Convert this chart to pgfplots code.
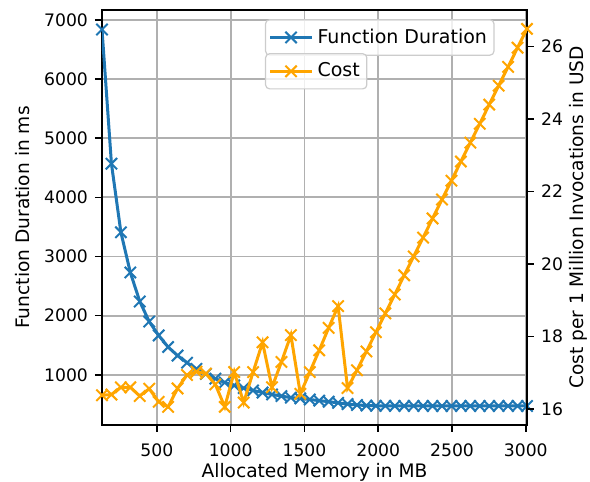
\documentclass[border=0pt]{standalone}
\usepackage{fontspec}
\setmainfont{DejaVu Sans}
\usepackage{pgfplots}
\usepackage{pgfplotstable}
\pgfplotsset{compat=1.18}

\definecolor{mplblue}{HTML}{1F77B4}
\definecolor{mplorange}{HTML}{FFA500}
\definecolor{gridgray}{HTML}{B0B0B0}
\definecolor{legendgray}{HTML}{CCCCCC}

% memory (MB), duration (ms), cost per 1M invocations (USD)
\pgfplotstableread{
mem  dur   cost
128  6840  16.38
192  4570  16.40
256  3410  16.60
320  2730  16.60
384  2240  16.36
448  1900  16.56
512  1665  16.20
576  1470  16.06
640  1325  16.57
704  1205  16.94
768  1100  17.03
832  1015  16.98
896  935   16.68
960  870   16.06
1024 820   17.02
1088 775   16.18
1152 735   17.02
1216 700   17.84
1280 668   16.60
1344 640   17.30
1408 614   18.04
1472 600   16.42
1536 582   17.02
1600 563   17.62
1664 545   18.24
1728 525   18.84
1792 505   16.58
1856 490   17.07
1920 480   17.59
1984 476   18.12
2048 475   18.64
2112 474   19.16
2176 474   19.69
2240 474   20.21
2304 473   20.73
2368 473   21.26
2432 473   21.78
2496 473   22.30
2560 473   22.83
2624 473   23.35
2688 473   23.87
2752 473   24.40
2816 473   24.92
2880 473   25.44
2944 473   25.97
3008 473   26.49
}\data

\pgfplotsset{
  every axis/.append style={
    scale only axis, width=212.5pt, height=207.5pt,
    xmin=128, xmax=3008,
    font=\fontsize{9.3}{11}\selectfont,
    tick label style={font=\fontsize{8.6}{10}\selectfont},
    /pgf/number format/assume math mode=true,
    /pgf/number format/1000 sep={},
    axis line style={line width=0.8pt},
    tick style={black, line width=0.8pt},
    tick align=outside, major tick length=3.5pt,
    legend cell align=left,
    legend style={anchor=north west, draw=legendgray, fill=white,
      fill opacity=0.8, text opacity=1, rounded corners=2pt,
      line width=0.6pt, inner xsep=1.5pt, inner ysep=2.5pt,
      font=\fontsize{9.5}{11}\selectfont},
    legend image code/.code={
      \draw[mark repeat=2, mark phase=2, #1]
        plot coordinates {(0pt,0pt) (10.5pt,0pt) (21pt,0pt)};},
  },
}

\begin{document}
\begin{tikzpicture}
\path[use as bounding box] (-51pt,-28.5pt) rectangle (244pt,212.5pt);

\begin{axis}[
  ymin=151, ymax=7169,
  xtick={500,1000,...,3000},
  ytick={1000,2000,...,7000},
  xtick pos=bottom, ytick pos=left,
  xticklabel style={yshift=-2.5pt},
  grid=major, grid style={gridgray, line width=0.9pt},
  xlabel={Allocated Memory in MB},
  ylabel={Function Duration in ms},
  xlabel style={at={(axis description cs:0.5,-0.114)}, anchor=center},
  ylabel style={at={(axis description cs:-0.188,0.5)}, anchor=center},
  legend style={at={(axis description cs:0.3835,0.978)}},
]
\addplot[mplblue, line width=1.5pt, mark=x, mark size=4pt,
  mark options={line width=1pt, solid}] table[x=mem, y=dur]{\data};
\addlegendentry{Function Duration}
\end{axis}

\begin{axis}[
  ymin=15.56, ymax=27.01,
  axis x line=none,
  axis y line*=right,
  ytick={16,18,...,26},
  ylabel={Cost per 1 Million Invocations in USD},
  ylabel style={at={(axis description cs:1.12,0.5)}, anchor=center},
  legend style={at={(axis description cs:0.3835,0.896)}},
]
\addplot[mplorange, line width=1.5pt, mark=x, mark size=4pt,
  mark options={line width=1pt, solid}] table[x=mem, y=cost]{\data};
\addlegendentry{Cost}
\end{axis}
\end{tikzpicture}
\end{document}
